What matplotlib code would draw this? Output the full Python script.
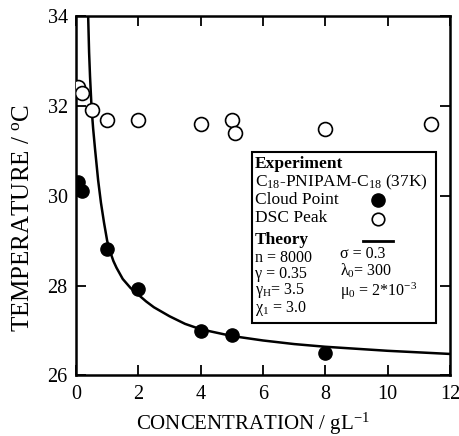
import matplotlib
matplotlib.use("Agg")
import matplotlib.pyplot as plt
from matplotlib.patches import Rectangle
from matplotlib.lines import Line2D

plt.rcParams['font.family'] = ['Liberation Serif', 'DejaVu Serif']
plt.rcParams['mathtext.fontset'] = 'custom'
plt.rcParams['mathtext.rm'] = 'Liberation Serif'
plt.rcParams['mathtext.it'] = 'Liberation Serif:italic'
plt.rcParams['mathtext.bf'] = 'Liberation Serif:bold'

# cloud point (filled) and DSC peak (open) data
cloud_conc = [0.05, 0.2, 1.0, 2.0, 4.0, 5.0, 8.0]
cloud_temp = [30.3, 30.1, 28.82, 27.92, 27.0, 26.9, 26.5]
dsc_conc = [0.07, 0.2, 0.5, 1.0, 2.0, 4.0, 5.0, 5.1, 8.0, 11.4]
dsc_temp = [32.42, 32.3, 31.92, 31.7, 31.7, 31.6, 31.7, 31.4, 31.5, 31.6]

# theory curve
theory_conc = [0.39, 0.42, 0.45, 0.5, 0.55, 0.61, 0.71, 0.8, 0.9, 1.0, 1.1,
               1.2, 1.3, 1.5, 1.75, 2.0, 2.25, 2.5, 3.0, 3.5, 4.0, 5.0, 6.0,
               7.0, 8.0, 10.0, 12.0]
theory_temp = [34.0, 33.2, 32.66, 31.95, 31.5, 31.05, 30.35, 29.85, 29.4, 29.0,
               28.75, 28.55, 28.4, 28.15, 27.95, 27.8, 27.65, 27.52, 27.32,
               27.15, 27.03, 26.88, 26.78, 26.7, 26.64, 26.55, 26.48]

xticks = [0, 2, 4, 6, 8, 10, 12]
yticks = [26, 28, 30, 32, 34]

fig = plt.figure(figsize=(4.59, 4.36), dpi=100)
ax = fig.add_axes([0.1656, 0.1388, 0.8147, 0.8235])

ax.plot(theory_conc, theory_temp, color='black', lw=1.8, zorder=2)
ax.plot(cloud_conc, cloud_temp, 'o', color='black', ms=9.5, zorder=3)
ax.plot(dsc_conc, dsc_temp, 'o', mfc='white', mec='black', mew=1.2, ms=10, zorder=3)

ax.set_xlim(0, 12)
ax.set_ylim(26, 34)
ax.set_xticks(xticks)
ax.set_yticks(yticks)
ax.tick_params(direction='in', length=7, width=1.3, labelsize=14.5,
               top=True, right=True)
ax.tick_params(axis='x', pad=7)
ax.tick_params(axis='y', pad=6)
for s in ax.spines.values():
    s.set_linewidth(1.8)

ax.set_xlabel('CONCENTRATION / gL$^{-1}$', fontsize=15, va='center')
ax.xaxis.set_label_coords(0.474, -0.135)
ax.set_ylabel('TEMPERATURE / $^{\\mathrm{o}}$C', fontsize=18, va='center')
ax.yaxis.set_label_coords(-0.142, 0.44)

# legend box built by hand
def fx(px):
    return (px - 76) / 374.5

def fy(py):
    return (375.5 - py) / 359.0

ax.add_patch(Rectangle((fx(252), fy(323)), fx(437) - fx(252), fy(152) - fy(323),
                       transform=ax.transAxes, facecolor='white',
                       edgecolor='black', lw=1.5, zorder=4))

kw = dict(transform=ax.transAxes, va='center', ha='left', zorder=5)
tx = fx(255)
ax.text(tx, fy(164), 'Experiment', fontsize=12.5, fontweight='bold', **kw)
ax.text(tx, fy(182), 'C$_{18}$-PNIPAM-C$_{18}$ (37K)', fontsize=12.5, **kw)
ax.text(tx, fy(200), 'Cloud Point', fontsize=12.5, **kw)
ax.text(tx, fy(218), 'DSC Peak', fontsize=12.5, **kw)
ax.text(tx, fy(240), 'Theory', fontsize=12.5, fontweight='bold', **kw)
ax.add_line(Line2D([fx(378)], [fy(200)], marker='o', color='black', ms=9.5,
                   transform=ax.transAxes, zorder=5))
ax.add_line(Line2D([fx(378)], [fy(219)], marker='o', mfc='white', mec='black',
                   mew=1.2, ms=9, transform=ax.transAxes, zorder=5))
ax.add_line(Line2D([fx(363), fx(393)], [fy(241), fy(241)], color='black', lw=2,
                   transform=ax.transAxes, zorder=5))

left_params = ['n = 8000', 'γ = 0.35', 'γ$_{\\mathrm{H}}$= 3.5', 'χ$_1$ = 3.0']
right_params = ['σ = 0.3', 'λ$_0$= 300', 'μ$_0$ = 2*10$^{-3}$']
rows = [258, 274, 291, 309]
for lab, py in zip(left_params, rows):
    ax.text(tx, fy(py), lab, fontsize=11.5, **kw)
for lab, py in zip(right_params, [254, 271, 291]):
    ax.text(fx(340), fy(py), lab, fontsize=11.5, **kw)

fig.savefig('out.png', dpi=100)
